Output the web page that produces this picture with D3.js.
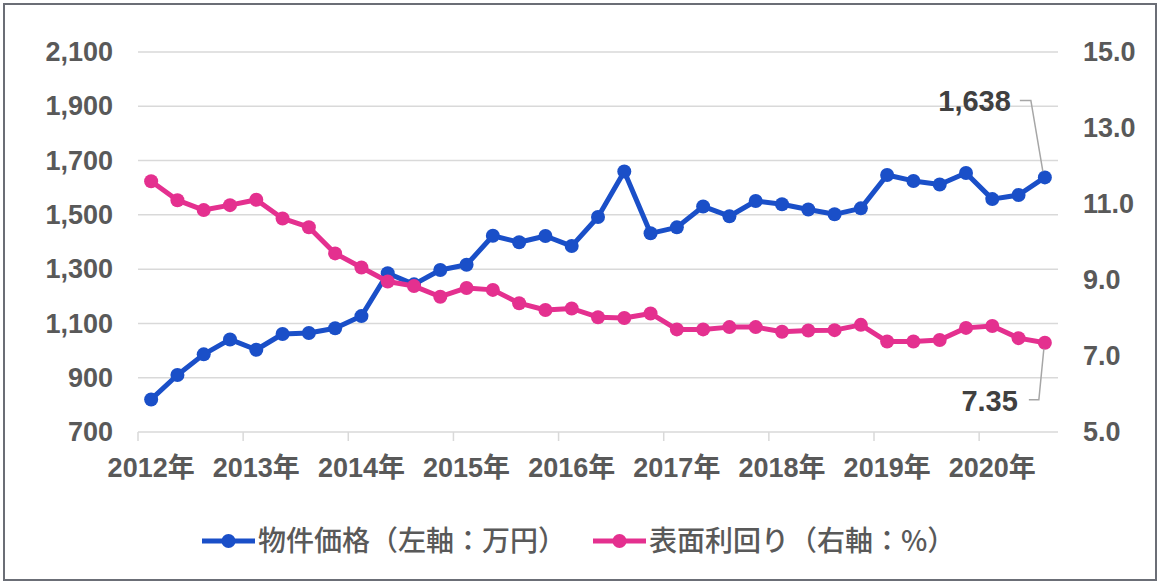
<!DOCTYPE html>
<html><head><meta charset="utf-8">
<script src="https://cdn.jsdelivr.net/npm/d3@7/dist/d3.min.js"></script>
<style>
html,body{margin:0;padding:0;background:#fff;}
svg{display:block;}
</style></head>
<body>
<svg id="c" width="1160" height="584"></svg>
<script>
const categories = [
 "2012Q1","2012Q2","2012Q3","2012Q4",
 "2013Q1","2013Q2","2013Q3","2013Q4",
 "2014Q1","2014Q2","2014Q3","2014Q4",
 "2015Q1","2015Q2","2015Q3","2015Q4",
 "2016Q1","2016Q2","2016Q3","2016Q4",
 "2017Q1","2017Q2","2017Q3","2017Q4",
 "2018Q1","2018Q2","2018Q3","2018Q4",
 "2019Q1","2019Q2","2019Q3","2019Q4",
 "2020Q1","2020Q2","2020Q3"];
const price = [820, 910, 986, 1041, 1003, 1061, 1065, 1082,
  1127, 1285, 1244, 1297, 1316, 1423, 1399, 1422,
  1385, 1492, 1660, 1432, 1454, 1531, 1495, 1551,
  1539, 1520, 1502, 1524, 1647, 1625, 1612, 1654,
  1558, 1573, 1638];
const yieldPct = [11.60, 11.10, 10.84, 10.97, 11.11, 10.62, 10.39, 9.70,
  9.33, 8.96, 8.84, 8.56, 8.79, 8.74, 8.39, 8.21,
  8.25, 8.02, 8.00, 8.12, 7.70, 7.70, 7.76, 7.76,
  7.64, 7.67, 7.68, 7.82, 7.38, 7.38, 7.42, 7.74,
  7.79, 7.47, 7.35];
const leftTicks = [700, 900, 1100, 1300, 1500, 1700, 1900, 2100];
const rightTicks = [5, 7, 9, 11, 13, 15];
const yearLabels = ["2012年","2013年","2014年","2015年","2016年","2017年","2018年","2019年","2020年"];
const seriesNames = ["物件価格（左軸：万円）", "表面利回り（右軸：%）"];
const lastLabels = ["1,638", "7.35"];

const BLUE = "#1a4fc8", PINK = "#e4308f", GRID = "#d9d9d9", TXT = "#595959";
const NUMFONT = "'Liberation Sans', Arial, 'Noto Sans CJK JP', sans-serif";
const CJKFONT = "'Noto Sans CJK JP', sans-serif";

const svg = d3.select("#c");
const L = 138, R = 1058, T = 52, B = 432;

svg.append("rect").attr("x",4).attr("y",4).attr("width",1152).attr("height",576)
  .attr("fill","#fff").attr("stroke","#6b6e76").attr("stroke-width",2);

const x = d3.scaleBand().domain(categories).range([L, R]).padding(0);
const bw = x.bandwidth();
const cx = c => x(c) + bw/2;
const yL = d3.scaleLinear().domain([700, 2100]).range([B, T]);
const yR = d3.scaleLinear().domain([5, 15]).range([B, T]);

// gridlines
svg.append("g").selectAll("line").data(leftTicks.slice(1)).join("line")
  .attr("x1", L).attr("x2", R).attr("y1", d=>yL(d)).attr("y2", d=>yL(d))
  .attr("stroke", GRID).attr("stroke-width", 1.5);

// left axis labels
const gl = svg.append("g").attr("transform", `translate(${L},0)`)
  .call(d3.axisLeft(yL).tickValues(leftTicks).tickFormat(d3.format(",")).tickSize(0).tickPadding(25));
gl.select(".domain").remove();
gl.selectAll("text").attr("fill", TXT).style("font-family", NUMFONT).style("font-size","27px").style("font-weight","bold");

// right axis labels
const gr = svg.append("g").attr("transform", `translate(${R},0)`)
  .call(d3.axisRight(yR).tickValues(rightTicks).tickFormat(d3.format(".1f")).tickSize(0).tickPadding(25));
gr.select(".domain").remove();
gr.selectAll("text").attr("fill", TXT).style("font-family", NUMFONT).style("font-size","27px").style("font-weight","bold");

// bottom axis line
svg.append("line").attr("x1", L).attr("x2", R).attr("y1", B).attr("y2", B)
  .attr("stroke", GRID).attr("stroke-width", 1.5);
const q1 = categories.filter(c => c.endsWith("Q1"));
svg.append("g").selectAll("line").data(q1).join("line")
  .attr("x1", d=>x(d)).attr("x2", d=>x(d)).attr("y1", B).attr("y2", B+9)
  .attr("stroke", GRID).attr("stroke-width", 1.5);
const gx = svg.append("g").attr("transform", `translate(0,${B})`)
  .call(d3.axisBottom(x).tickValues(q1).tickSize(0).tickPadding(26)
    .tickFormat((d,i) => yearLabels[i]));
gx.select(".domain").remove();
gx.selectAll("text").attr("fill", TXT).style("font-family", NUMFONT).style("font-size","27px").style("font-weight","bold");

// series
function drawSeries(vals, yS, color) {
  const g = svg.append("g");
  const line = d3.line().x((d,i)=>cx(categories[i])).y(d=>yS(d));
  g.append("path").datum(vals).attr("d", line).attr("fill","none")
    .attr("stroke", color).attr("stroke-width", 5).attr("stroke-linejoin","round");
  g.selectAll("circle").data(vals).join("circle")
    .attr("cx", (d,i)=>cx(categories[i])).attr("cy", d=>yS(d)).attr("r", 7).attr("fill", color);
}
drawSeries(price, yL, BLUE);
drawSeries(yieldPct, yR, PINK);

// last-point annotations
const lastC = categories[categories.length-1];
const lx = cx(lastC);
const lyB = yL(price[price.length-1]);
const lyP = yR(yieldPct[yieldPct.length-1]);
const lead = svg.append("g").attr("fill","none").attr("stroke","#a6a6a6").attr("stroke-width",1.5);
lead.append("polyline").attr("points", `${lx-25},${lyB-77} ${lx-14},${lyB-77} ${lx-2},${lyB-6}`);
lead.append("polyline").attr("points", `${lx-16},${lyP+57} ${lx-6},${lyP+57} ${lx-1},${lyP+6}`);
svg.append("text").attr("x", lx-34).attr("y", lyB-77).attr("dy","0.36em").attr("text-anchor","end")
  .attr("fill","#404040").style("font-family", NUMFONT).style("font-size","29px").style("font-weight","bold")
  .text(lastLabels[0]);
svg.append("text").attr("x", lx-27).attr("y", lyP+58).attr("dy","0.36em").attr("text-anchor","end")
  .attr("fill","#404040").style("font-family", NUMFONT).style("font-size","29px").style("font-weight","bold")
  .text(lastLabels[1]);

// legend
const legY = 541;
const leg = [{name: seriesNames[0], color: BLUE, x: 202}, {name: seriesNames[1], color: PINK, x: 593}];
leg.forEach(l => {
  svg.append("line").attr("x1", l.x).attr("x2", l.x+53).attr("y1", legY).attr("y2", legY)
    .attr("stroke", l.color).attr("stroke-width", 5);
  svg.append("circle").attr("cx", l.x+26.5).attr("cy", legY).attr("r", 7).attr("fill", l.color);
  svg.append("text").attr("x", l.x+56).attr("y", legY).attr("dy","0.36em")
    .attr("fill", TXT).style("font-family", CJKFONT).style("font-size","28px").style("font-weight","500")
    .text(l.name);
});
</script>
</body></html>
